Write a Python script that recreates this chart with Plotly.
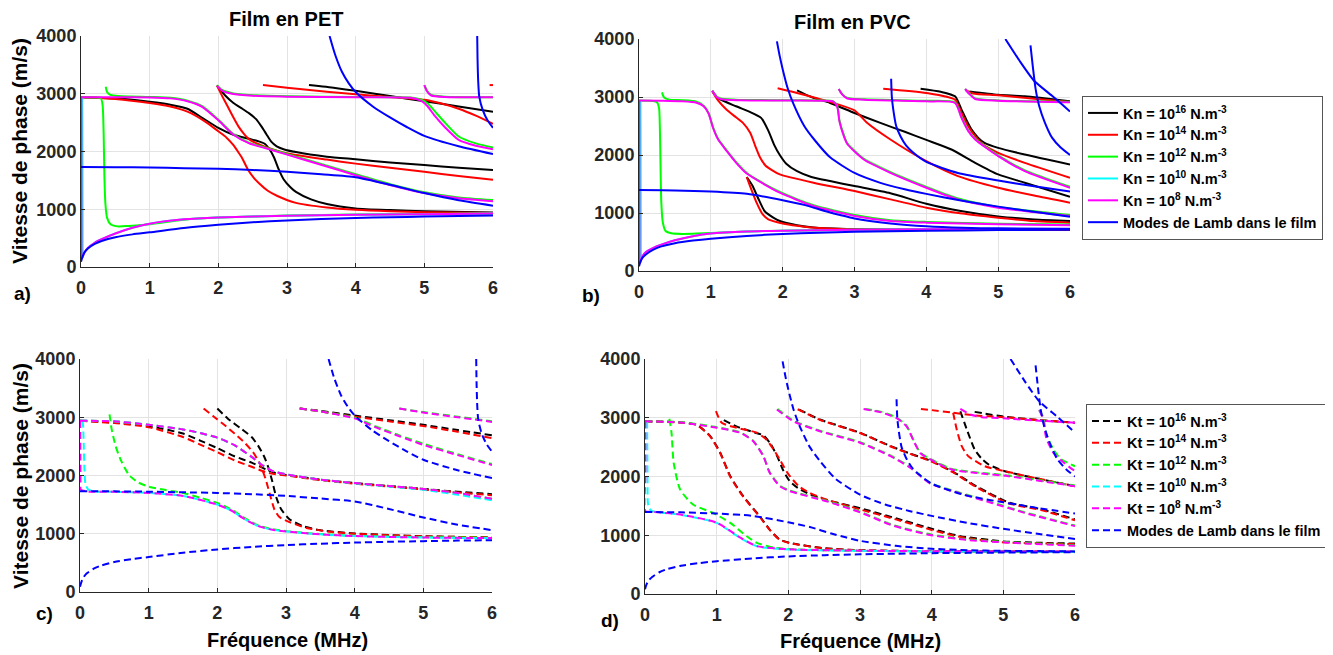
import plotly.graph_objects as go

# ---------------- text ----------------
FREQ_TICKS = [0, 1, 2, 3, 4, 5, 6]
SPEED_TICKS = [0, 1000, 2000, 3000, 4000]
KN_LABELS = ["Kn = 10<sup>16</sup> N.m<sup>-3</sup>", "Kn = 10<sup>14</sup> N.m<sup>-3</sup>",
             "Kn = 10<sup>12</sup> N.m<sup>-3</sup>", "Kn = 10<sup>10</sup> N.m<sup>-3</sup>",
             "Kn = 10<sup>8</sup> N.m<sup>-3</sup>", "Modes de Lamb dans le film"]
KT_LABELS = ["Kt = 10<sup>16</sup> N.m<sup>-3</sup>", "Kt = 10<sup>14</sup> N.m<sup>-3</sup>",
             "Kt = 10<sup>12</sup> N.m<sup>-3</sup>", "Kt = 10<sup>10</sup> N.m<sup>-3</sup>",
             "Kt = 10<sup>8</sup> N.m<sup>-3</sup>", "Modes de Lamb dans le film"]
COLORS = ["#000000", "#ff0000", "#00ff00", "#00ffff", "#ff00ff", "#0000ff"]

# ---------------- Lamb modes (film alone) ----------------
LAMB_PET_1 = [(0, 90), (0.02, 170), (0.05, 250), (0.1, 320), (0.2, 400), (0.3, 450), (0.5, 515), (0.75, 565),
              (1, 600), (1.5, 675), (2, 730), (2.5, 775), (3, 805), (3.5, 830), (4, 848), (4.5, 862), (5, 873),
              (5.5, 882), (6, 890)]
LAMB_PET_2 = [(0, 1730), (0.5, 1728), (1, 1722), (1.5, 1712), (2, 1700), (2.5, 1680), (3, 1650), (3.5, 1605),
              (4, 1555), (4.5, 1425), (5, 1280), (5.5, 1155), (6, 1062)]
LAMB_PET_3 = [(3.62, 4000), (3.7, 3680), (3.8, 3380), (3.9, 3180), (4.0, 3030), (4.25, 2780), (4.5, 2590),
              (4.75, 2420), (5, 2270), (5.5, 2090), (6, 1955)]
LAMB_PET_4 = [(5.77, 4000), (5.775, 3600), (5.785, 3200), (5.8, 2950), (5.85, 2720), (5.92, 2540), (6, 2410)]

LAMB_PVC_1 = [(0, 80), (0.02, 160), (0.05, 230), (0.1, 290), (0.2, 370), (0.3, 420), (0.5, 480), (0.75, 525),
              (1, 558), (1.5, 605), (2, 640), (2.5, 660), (3, 675), (3.5, 686), (4, 695), (5, 705), (6, 712)]
LAMB_PVC_2 = [(0, 1395), (0.5, 1390), (1, 1370), (1.5, 1330), (2, 1220), (2.3, 1140), (2.6, 1030), (2.8, 965),
              (3, 905), (3.5, 820), (4, 770), (4.5, 745), (5, 735), (6, 725)]
LAMB_PVC_3 = [(1.92, 3960), (1.96, 3700), (2.0, 3480), (2.07, 3150), (2.15, 2880), (2.3, 2500), (2.45, 2250),
              (2.66, 1960), (3, 1690), (3.36, 1520), (3.7, 1410), (4, 1330), (4.5, 1210), (5, 1110), (5.5, 1020),
              (6, 935)]
LAMB_PVC_4 = [(3.51, 3315), (3.52, 3000), (3.54, 2782), (3.58, 2500), (3.64, 2324), (3.72, 2160), (3.82, 2037),
              (4, 1880), (4.44, 1690), (5, 1560), (5.5, 1460), (6, 1370)]
LAMB_PVC_5 = [(5.1, 4000), (5.3, 3620), (5.5, 3280), (5.75, 3020), (6, 2750)]
LAMB_PVC_6 = [(5.45, 3890), (5.48, 3550), (5.52, 3150), (5.57, 2850), (5.65, 2560), (5.75, 2300), (5.87, 2130),
              (6, 2000)]

# ---------------- PET film, normal stiffness Kn ----------------
PET_LOW = [(0.012, 140), (0.05, 250), (0.1, 330), (0.2, 420), (0.3, 480), (0.5, 580), (0.75, 680), (1, 750),
           (1.5, 825), (2, 858), (3, 888), (4, 905), (5, 915), (6, 925)]
PET_KN16_A = [(1.98, 3140), (2.1, 2970), (2.22, 2840), (2.35, 2740), (2.45, 2660), (2.55, 2560), (2.63, 2430),
              (2.7, 2300), (2.77, 2170), (2.85, 2090), (2.95, 2040), (3.13, 1990), (3.58, 1910), (4, 1865),
              (4.5, 1810), (5, 1765), (5.5, 1720), (6, 1680)]
PET_KN16_B = [(0, 2940), (0.5, 2920), (1, 2860), (1.3, 2810), (1.55, 2740), (1.77, 2580), (2, 2410), (2.22, 2290),
              (2.45, 2220), (2.6, 2170), (2.68, 2130), (2.75, 2030), (2.81, 1900), (2.88, 1690), (2.95, 1520),
              (3.05, 1380), (3.13, 1300), (3.35, 1170), (3.58, 1090), (4, 1015), (4.5, 985), (5, 965), (6, 945)]
PET_KN16_C = [(3.32, 3150), (3.7, 3100), (4, 3050), (4.5, 2960), (5, 2870), (5.5, 2780), (6, 2690)]
PET_KN14_A = [(1.98, 3140), (2.06, 2950), (2.14, 2770), (2.22, 2590), (2.29, 2440), (2.37, 2310), (2.45, 2210),
              (2.58, 2130), (2.72, 2065), (2.99, 1970), (3.58, 1860), (4, 1790), (4.5, 1720), (5, 1650),
              (5.5, 1575), (6, 1510)]
PET_KN14_B = [(0, 2940), (0.5, 2910), (1, 2840), (1.3, 2780), (1.55, 2690), (1.82, 2510), (2, 2350), (2.12, 2240),
              (2.22, 2110), (2.29, 1990), (2.34, 1900), (2.43, 1690), (2.52, 1540), (2.6, 1440), (2.72, 1320),
              (2.86, 1230), (3.13, 1110), (3.58, 1030), (4, 990), (4.5, 965), (5, 950), (6, 935)]
PET_KN14_C = [(2.65, 3150), (3, 3105), (3.58, 3035), (4, 2990), (4.5, 2945), (5, 2895), (5.25, 2830), (5.5, 2740),
              (5.75, 2620), (6, 2480)]
PET_KN14_D = [(5.95, 3150), (6, 3150)]
PET_KN12_A = [(0, 2940), (0.2, 2935), (0.29, 2920), (0.315, 2800), (0.33, 2300), (0.34, 1600), (0.355, 1100),
              (0.38, 850), (0.43, 740), (0.55, 700), (0.7, 712), (1, 742), (1.5, 820), (2, 858), (3, 890),
              (4, 907), (5, 918), (6, 928)]
PET_KN12_B = [(0.36, 3120), (0.38, 3030), (0.42, 2985), (0.55, 2960), (1, 2945), (1.3, 2930), (1.55, 2880),
              (1.77, 2780), (2, 2550), (2.22, 2300), (2.45, 2150), (2.68, 2070), (2.99, 1960), (3.58, 1755),
              (4, 1605), (4.5, 1435), (5, 1295), (5.5, 1205), (6, 1160)]
PET_KN12_C = [(1.98, 3150), (2.05, 3070), (2.2, 3010), (2.5, 2975), (3, 2955), (4, 2945), (4.8, 2935),
              (4.95, 2900), (5.05, 2830), (5.15, 2700), (5.3, 2500), (5.5, 2260), (5.75, 2140), (6, 2070)]
PET_KN12_D = [(5.0, 3150), (5.04, 3050), (5.1, 2980), (5.3, 2950), (6, 2940)]
PET_KN10_DROP = [(0.018, 2940), (0.02, 2500), (0.022, 1500), (0.024, 600), (0.027, 250), (0.035, 230),
                 (0.05, 255)]
PET_KN8_DROP = [(0.004, 2940), (0.005, 1500), (0.006, 400), (0.008, 160), (0.012, 140)]
PET_KN8_A = [(0, 2940), (0.5, 2940), (1, 2935), (1.3, 2920), (1.55, 2870), (1.77, 2770), (2, 2540), (2.22, 2290),
             (2.45, 2140), (2.68, 2060), (2.99, 1950), (3.58, 1740), (4, 1590), (4.5, 1420), (5, 1280), (5.5, 1190),
             (6, 1140)]
PET_KN8_B = [(1.98, 3140), (2.05, 3060), (2.2, 3000), (2.5, 2965), (3, 2950), (4, 2940), (4.8, 2930),
             (4.95, 2880), (5.05, 2780), (5.15, 2620), (5.3, 2420), (5.5, 2200), (5.75, 2100), (6, 2040)]
PET_KN8_C = [(5.0, 3150), (5.04, 3040), (5.1, 2970), (5.3, 2945), (6, 2940)]

# ---------------- PVC film, normal stiffness Kn ----------------
PVC_LOW = [(0.012, 130), (0.05, 260), (0.1, 330), (0.2, 400), (0.3, 450), (0.5, 530), (0.75, 600), (1, 645),
           (1.5, 680), (2, 695), (3, 712), (4, 720), (6, 728)]
PVC_KN16_A = [(1.02, 3100), (1.1, 2980), (1.35, 2840), (1.55, 2740), (1.7, 2640), (1.8, 2420), (1.88, 2180),
              (1.96, 2000), (2.05, 1850), (2.2, 1720), (2.4, 1620), (2.66, 1550), (3, 1464), (3.5, 1340),
              (4, 1160), (4.5, 1030), (5, 940), (5.5, 890), (6, 863)]
PVC_KN16_B = [(1.5, 1620), (1.58, 1470), (1.66, 1250), (1.75, 1030), (1.87, 920), (1.96, 863), (2.2, 790),
              (2.43, 750), (3, 722), (4, 714), (6, 712)]
PVC_KN16_C = [(2.2, 3115), (2.4, 3000), (2.66, 2897), (3, 2725), (3.36, 2553), (3.7, 2400), (4, 2260),
              (4.35, 2095), (4.68, 1865), (5, 1665), (5.37, 1522), (6, 1281)]
PVC_KN16_D = [(3.92, 3143), (4.2, 3090), (4.4, 3011), (4.49, 2782), (4.56, 2600), (4.63, 2438), (4.72, 2300),
              (4.81, 2209), (5, 2123), (5.37, 2009), (6, 1837)]
PVC_KN16_E = [(4.6, 3097), (5, 3040), (5.37, 3011), (6, 2925)]
PVC_KN14_A = [(1.02, 3100), (1.1, 2940), (1.22, 2780), (1.35, 2650), (1.45, 2550), (1.55, 2380), (1.62, 2150),
              (1.68, 1970), (1.76, 1820), (1.85, 1740), (1.96, 1665), (2.43, 1522), (3, 1378), (3.5, 1235),
              (4, 1092), (4.5, 990), (5, 920), (5.5, 860), (6, 834)]
PVC_KN14_B = [(1.5, 1620), (1.56, 1420), (1.64, 1170), (1.72, 980), (1.8, 890), (2, 820), (2.2, 780),
              (2.5, 740), (3, 718), (4, 712), (6, 710)]
PVC_KN14_C = [(1.93, 3150), (2.2, 3070), (2.5, 2970), (2.7, 2900), (3, 2770), (3.17, 2560), (3.5, 2267),
              (4, 1894), (4.44, 1636), (5, 1436), (5.5, 1300), (6, 1178)]
PVC_KN14_D = [(3.4, 3143), (4, 3069), (4.4, 2954), (4.49, 2725), (4.58, 2500), (4.68, 2324), (4.8, 2170),
              (5, 2037), (5.37, 1865), (6, 1608)]
PVC_KN14_E = [(4.55, 3120), (4.65, 3060), (5, 3030), (5.5, 2970), (6, 2915)]
PVC_KN12_A = [(0, 2940), (0.15, 2935), (0.25, 2910), (0.28, 2800), (0.29, 2500), (0.3, 1800), (0.31, 1200),
              (0.33, 850), (0.37, 690), (0.45, 650), (0.6, 640), (0.8, 645), (1, 655), (1.5, 680), (2, 695),
              (3, 710), (4, 718), (6, 725)]
PVC_KN12_B = [(0.32, 3080), (0.35, 2990), (0.42, 2955), (0.6, 2945), (0.8, 2920), (0.9, 2850), (0.97, 2720),
              (1.03, 2480), (1.1, 2280), (1.22, 2080), (1.35, 1880), (1.5, 1690), (1.75, 1500), (1.96, 1365),
              (2.43, 1135), (3, 965), (3.5, 875), (4, 846), (5, 815), (6, 800)]
PVC_KN12_C = [(1.02, 3110), (1.08, 3010), (1.15, 2970), (1.4, 2950), (2, 2945), (2.5, 2940), (2.7, 2930),
              (2.76, 2850), (2.79, 2600), (2.85, 2350), (2.9, 2200), (3.13, 1935), (3.5, 1705), (4, 1450),
              (4.44, 1250), (5, 1105), (6, 965)]
PVC_KN12_D = [(2.78, 3138), (2.83, 3050), (2.9, 2985), (3.13, 2960), (4, 2935), (4.4, 2907), (4.49, 2650),
              (4.58, 2430), (4.68, 2280), (5, 1995), (5.37, 1735), (6, 1450)]
PVC_KN12_E = [(4.54, 3138), (4.6, 3060), (4.68, 2976), (5, 2940), (6, 2918)]
PVC_KN10_DROP = [(0.02, 2940), (0.022, 2500), (0.024, 1500), (0.026, 600), (0.029, 250), (0.037, 220),
                 (0.05, 250)]
PVC_KN8_DROP = [(0.004, 2940), (0.005, 1500), (0.006, 400), (0.008, 150), (0.012, 130)]
PVC_KN8_A = [(0, 2940), (0.3, 2935), (0.6, 2925), (0.8, 2900), (0.9, 2840), (0.97, 2710), (1.03, 2470),
             (1.1, 2270), (1.22, 2070), (1.35, 1870), (1.5, 1680), (1.75, 1490), (1.96, 1350), (2.43, 1120),
             (3, 950), (3.5, 863), (4, 834), (5, 805), (6, 790)]
PVC_KN8_B = [(1.02, 3110), (1.08, 3000), (1.15, 2960), (1.4, 2945), (2, 2940), (2.5, 2935), (2.7, 2925),
             (2.76, 2830), (2.79, 2580), (2.85, 2330), (2.9, 2190), (3.13, 1923), (3.5, 1693), (4, 1436),
             (4.44, 1235), (5, 1092), (6, 949)]
PVC_KN8_C = [(2.78, 3138), (2.83, 3040), (2.9, 2975), (3.13, 2954), (4, 2925), (4.4, 2897), (4.49, 2639),
             (4.58, 2420), (4.68, 2267), (5, 1980), (5.37, 1722), (6, 1436)]
PVC_KN8_D = [(4.54, 3138), (4.6, 3050), (4.68, 2966), (5, 2935), (6, 2908)]

# ---------------- PET film, tangential stiffness Kt ----------------
PET_KT16_A = [(2.0, 3150), (2.15, 2980), (2.35, 2800), (2.5, 2660), (2.6, 2500), (2.68, 2330), (2.74, 2150),
              (2.8, 1900), (2.86, 1620), (2.93, 1420), (3.05, 1250), (3.25, 1130), (3.5, 1060), (4, 1005),
              (4.5, 978), (5, 958), (5.5, 946), (6, 937)]
PET_KT16_B = [(0, 2940), (0.5, 2910), (1, 2850), (1.5, 2720), (1.75, 2600), (2, 2470), (2.25, 2330),
              (2.5, 2220), (2.7, 2110), (2.85, 2040), (3, 2010), (3.5, 1930), (4, 1870), (4.5, 1820), (5, 1770),
              (5.5, 1720), (6, 1680)]
PET_KT16_C = [(3.2, 3150), (3.5, 3110), (4, 3030), (4.5, 2950), (5, 2870), (5.5, 2780), (6, 2690)]
PET_KT14_A = [(1.8, 3150), (1.95, 3010), (2.1, 2870), (2.25, 2720), (2.4, 2560), (2.52, 2400), (2.62, 2200),
              (2.7, 1950), (2.76, 1700), (2.83, 1420), (2.9, 1290), (3.05, 1200), (3.3, 1100), (3.6, 1040),
              (4, 1000), (5, 955), (6, 940)]
PET_KT14_B = [(0, 2940), (0.5, 2900), (1, 2830), (1.5, 2660), (1.75, 2530), (2, 2400), (2.25, 2260),
              (2.5, 2150), (2.7, 2060), (2.85, 2020), (3, 2000), (3.5, 1920), (4, 1860), (4.5, 1810), (5, 1760),
              (5.5, 1710), (6, 1660)]
PET_KT14_C = [(3.2, 3150), (3.5, 3100), (4, 3010), (4.5, 2930), (5, 2850), (5.5, 2750), (6, 2640)]
PET_KT12_A = [(0.43, 3050), (0.46, 2800), (0.52, 2500), (0.6, 2250), (0.72, 2000), (0.85, 1880), (1, 1810),
              (1.25, 1750), (1.5, 1700), (1.75, 1620), (2, 1530), (2.2, 1420), (2.4, 1270), (2.6, 1140),
              (2.8, 1080), (3, 1045), (3.5, 995), (4, 965), (5, 942), (6, 932)]
PET_KT12_B = [(0, 2940), (0.5, 2930), (1, 2870), (1.5, 2790), (1.75, 2730), (2, 2650), (2.25, 2520),
              (2.5, 2320), (2.65, 2180), (2.8, 2080), (3, 2020), (3.5, 1930), (4, 1870), (4.5, 1820), (5, 1770),
              (5.5, 1700), (6, 1600)]
PET_KT12_C = [(3.2, 3150), (3.5, 3100), (4, 2995), (4.3, 2845), (4.66, 2685), (5, 2545), (5.5, 2365),
              (6, 2195)]
PET_KT12_D = [(4.65, 3150), (5, 3090), (5.5, 3010), (6, 2930)]
PET_KT10_A = [(0.035, 2940), (0.045, 2850), (0.055, 2500), (0.065, 2100), (0.08, 1850), (0.12, 1760),
              (0.2, 1730), (0.5, 1720), (1, 1700), (1.5, 1650), (2, 1500), (2.2, 1400), (2.4, 1250), (2.6, 1130),
              (2.8, 1070), (3, 1040), (3.5, 990), (4, 960), (5, 935), (6, 925)]
PET_KT10_B = [(0, 2940), (0.5, 2930), (1, 2870), (1.5, 2790), (1.75, 2730), (2, 2650), (2.25, 2520),
              (2.5, 2320), (2.65, 2180), (2.8, 2080), (3, 2020), (3.5, 1930), (4, 1865), (4.5, 1810), (5, 1755),
              (5.5, 1670), (6, 1575)]
PET_KT8_A = [(0, 2940), (0.5, 2930), (1, 2870), (1.5, 2790), (1.75, 2730), (2, 2650), (2.25, 2520), (2.5, 2320),
             (2.65, 2180), (2.8, 2080), (3, 2020), (3.5, 1930), (4, 1870), (4.5, 1820), (5, 1770), (5.5, 1700),
             (6, 1600)]
PET_KT8_B = [(0.004, 2940), (0.005, 2500), (0.007, 1900), (0.012, 1760), (0.1, 1725), (0.5, 1720), (1, 1700),
             (1.5, 1650), (2, 1500), (2.2, 1400), (2.4, 1250), (2.6, 1130), (2.8, 1070), (3, 1040), (3.5, 990),
             (4, 960), (5, 935), (6, 925)]
PET_KT8_C = [(3.2, 3150), (3.5, 3100), (4, 2980), (4.3, 2830), (4.66, 2670), (5, 2525), (5.5, 2350), (6, 2180)]
PET_KT8_D = [(4.65, 3150), (5, 3080), (5.5, 3000), (6, 2920)]

# ---------------- PVC film, tangential stiffness Kt ----------------
PVC_KT16_A = [(1.1, 2960), (1.3, 2840), (1.5, 2760), (1.65, 2700), (1.75, 2560), (1.85, 2330), (1.93, 2100),
              (2.02, 1920), (2.15, 1790), (2.3, 1700), (2.53, 1600), (3, 1460), (3.5, 1290), (4, 1110),
              (4.4, 985), (5, 895), (5.5, 872), (6, 858)]
PVC_KT16_B = [(0, 2940), (0.5, 2920), (0.72, 2880), (0.91, 2688), (1.05, 2404), (1.19, 2006), (1.37, 1665),
              (1.6, 1324), (1.74, 1097), (1.88, 927), (2.02, 870), (2.5, 780), (3, 745), (4, 730), (6, 720)]
PVC_KT16_C = [(2.15, 3140), (2.44, 2970), (3, 2745), (3.42, 2520), (3.7, 2390), (4, 2260), (4.3, 2080),
              (4.6, 1850), (5.07, 1560), (5.54, 1440), (6, 1270)]
PVC_KT16_D = [(4.4, 3110), (4.5, 2770), (4.6, 2460), (4.7, 2300), (4.8, 2200), (5.02, 2090), (5.5, 1960),
              (6, 1835)]
PVC_KT16_E = [(4.6, 3100), (5, 3020), (5.5, 2960), (6, 2915)]
PVC_KT14_A = [(0.99, 3114), (1.07, 2915), (1.28, 2830), (1.56, 2745), (1.7, 2620), (1.8, 2450), (1.88, 2290),
              (2, 2040), (2.15, 1830), (2.3, 1720), (2.53, 1610), (3, 1440), (3.5, 1270), (4, 1090), (4.4, 970),
              (5, 880), (5.5, 860), (6, 850)]
PVC_KT14_B = [(0, 2940), (0.5, 2918), (0.72, 2878), (0.91, 2680), (1.05, 2395), (1.19, 1995), (1.37, 1655),
              (1.6, 1315), (1.74, 1090), (1.88, 922), (2.02, 866), (2.5, 776), (3, 743), (4, 728), (6, 718)]
PVC_KT14_C = [(2.13, 3145), (2.44, 2965), (3, 2740), (3.42, 2515), (3.7, 2385), (4, 2255), (4.3, 2070),
              (4.6, 1835), (5.07, 1545), (5.54, 1425), (6, 1255)]
PVC_KT14_D = [(3.85, 3150), (4.0, 3130), (4.3, 3085), (4.6, 3040), (5, 3010), (5.5, 2960), (6, 2915)]
PVC_KT14_E = [(4.3, 3085), (4.35, 2800), (4.42, 2517), (4.51, 2347), (4.74, 2176), (5.02, 2090), (5.5, 1960),
              (6, 1835)]
PVC_KT12_A = [(0.34, 2983), (0.37, 2744), (0.4, 2233), (0.49, 1779), (0.67, 1523), (0.95, 1380), (1.19, 1210),
              (1.42, 983), (1.56, 870), (1.8, 790), (2, 765), (3, 735), (4, 725), (6, 720)]
PVC_KT12_B = [(0, 2940), (0.5, 2925), (1, 2840), (1.33, 2750), (1.51, 2610), (1.65, 2357), (1.74, 2073),
              (1.88, 1845), (2.02, 1760), (2.53, 1590), (3, 1400), (3.47, 1170), (4, 1010), (4.5, 930), (5, 888),
              (6, 828)]
PVC_KT12_C = [(1.85, 3150), (2.07, 2950), (2.44, 2780), (3, 2585), (3.42, 2360), (3.7, 2160), (3.98, 1890),
              (4.37, 1732), (4.84, 1560), (5.3, 1390), (6, 1165)]
PVC_KT12_D = [(3.07, 3150), (3.3, 3100), (3.51, 3005), (3.65, 2865), (3.75, 2610), (3.84, 2410), (3.98, 2300),
              (4.28, 2130), (4.6, 2073), (5.07, 2016), (5.54, 1930), (6, 1845)]
PVC_KT12_E = [(5.5, 3130), (5.56, 3000), (5.6, 2720), (5.7, 2460), (5.8, 2300), (6, 2175)]
PVC_KT10_A = [(0.03, 2940), (0.035, 2000), (0.04, 1550), (0.06, 1460), (0.1, 1410), (0.49, 1350), (1, 1210),
              (1.33, 955), (1.56, 813), (2.02, 756), (3, 735), (4, 725), (6, 720)]
PVC_KT8_A = [(0.004, 2940), (0.005, 2000), (0.006, 1410), (0.1, 1400), (0.49, 1352), (1, 1215), (1.33, 960),
             (1.56, 815), (2.02, 760), (3, 738), (4, 728), (6, 722)]
PVC_KT8_B = [(0, 2940), (0.5, 2920), (1, 2830), (1.33, 2745), (1.51, 2600), (1.65, 2347), (1.74, 2063),
             (1.88, 1835), (2.02, 1750), (2.53, 1580), (3, 1390), (3.47, 1160), (4, 1000), (4.5, 920), (5, 880),
             (6, 820)]
PVC_KT8_C = [(1.84, 3140), (2.07, 2940), (2.44, 2770), (3, 2575), (3.42, 2350), (3.7, 2150), (3.98, 1880),
             (4.37, 1722), (4.84, 1550), (5.3, 1380), (6, 1155)]
PVC_KT8_D = [(3.05, 3150), (3.3, 3090), (3.51, 2995), (3.65, 2855), (3.75, 2600), (3.84, 2400), (3.98, 2290),
             (4.28, 2120), (4.6, 2063), (5.07, 2006), (5.54, 1920), (6, 1835)]
PVC_KT8_E = [(4.4, 3150), (4.55, 3050), (4.7, 3010), (5, 2990), (5.5, 2950), (6, 2915)]
PVC_KT8_F = [(5.5, 3130), (5.55, 3000), (5.6, 2650), (5.7, 2400), (5.85, 2230), (6, 2090)]

# curve groups per panel, in colour order (black, red, green, cyan, magenta, blue)
PANEL_A = [[PET_KN16_A, PET_KN16_B, PET_KN16_C],
           [PET_KN14_A, PET_KN14_B, PET_KN14_C, PET_KN14_D],
           [PET_KN12_A, PET_KN12_B, PET_KN12_C, PET_KN12_D],
           [PET_KN10_DROP, PET_LOW],
           [PET_KN8_DROP, PET_LOW, PET_KN8_A, PET_KN8_B, PET_KN8_C],
           [LAMB_PET_1, LAMB_PET_2, LAMB_PET_3, LAMB_PET_4]]
PANEL_B = [[PVC_KN16_A, PVC_KN16_B, PVC_KN16_C, PVC_KN16_D, PVC_KN16_E],
           [PVC_KN14_A, PVC_KN14_B, PVC_KN14_C, PVC_KN14_D, PVC_KN14_E],
           [PVC_KN12_A, PVC_KN12_B, PVC_KN12_C, PVC_KN12_D, PVC_KN12_E],
           [PVC_KN10_DROP, PVC_LOW],
           [PVC_KN8_DROP, PVC_LOW, PVC_KN8_A, PVC_KN8_B, PVC_KN8_C, PVC_KN8_D],
           [LAMB_PVC_1, LAMB_PVC_2, LAMB_PVC_3, LAMB_PVC_4, LAMB_PVC_5, LAMB_PVC_6]]
PANEL_C = [[PET_KT16_A, PET_KT16_B, PET_KT16_C],
           [PET_KT14_A, PET_KT14_B, PET_KT14_C],
           [PET_KT12_A, PET_KT12_B, PET_KT12_C, PET_KT12_D],
           [PET_KT10_A, PET_KT10_B],
           [PET_KT8_A, PET_KT8_B, PET_KT8_C, PET_KT8_D],
           [LAMB_PET_1, LAMB_PET_2, LAMB_PET_3, LAMB_PET_4]]
PANEL_D = [[PVC_KT16_A, PVC_KT16_B, PVC_KT16_C, PVC_KT16_D, PVC_KT16_E],
           [PVC_KT14_A, PVC_KT14_B, PVC_KT14_C, PVC_KT14_D, PVC_KT14_E],
           [PVC_KT12_A, PVC_KT12_B, PVC_KT12_C, PVC_KT12_D, PVC_KT12_E],
           [PVC_KT10_A],
           [PVC_KT8_A, PVC_KT8_B, PVC_KT8_C, PVC_KT8_D, PVC_KT8_E, PVC_KT8_F],
           [LAMB_PVC_1, LAMB_PVC_2, LAMB_PVC_3, LAMB_PVC_4, LAMB_PVC_5, LAMB_PVC_6]]

PAGE_MARGIN = 8          # default body margin of the html page
W, H = 1333 - PAGE_MARGIN, 655 - PAGE_MARGIN
FONT = "Liberation Sans"
TICK_COLOR = "#262626"

fig = go.Figure()


def add_panel(groups, axis_suffix, dash, labels, legend_id, show_legend):
    for ci, curves in enumerate(groups):
        for k, pts in enumerate(curves):
            fig.add_trace(go.Scatter(
                x=[p[0] for p in pts], y=[p[1] for p in pts], mode="lines",
                line=dict(color=COLORS[ci], width=2, dash=dash, shape="spline", smoothing=0.6),
                xaxis="x" + axis_suffix, yaxis="y" + axis_suffix,
                name="<b>" + labels[ci] + "</b>", legendgroup=legend_id + str(ci),
                legend=legend_id, showlegend=(show_legend and k == 0), hoverinfo="skip"))


add_panel(PANEL_A, "", "solid", KN_LABELS, "legend", True)
add_panel(PANEL_B, "2", "solid", KN_LABELS, "legend", False)
add_panel(PANEL_C, "3", "7px,4px", KT_LABELS, "legend2", True)
add_panel(PANEL_D, "4", "7px,4px", KT_LABELS, "legend2", False)


def px_x(px):
    return (px - PAGE_MARGIN) / W


def px_y(py):
    return 1 - (py - PAGE_MARGIN) / H


def xaxis(x0, x1, anchor):
    return dict(domain=[px_x(x0), px_x(x1)], anchor=anchor, range=[0, 6], tickvals=FREQ_TICKS,
                tickfont=dict(family=FONT, size=18, color=TICK_COLOR, weight="bold"),
                showgrid=True, gridcolor="#e3e3e3", gridwidth=1, zeroline=False,
                showline=True, linecolor=TICK_COLOR, linewidth=1, automargin=False,
                ticks="inside", ticklen=4, tickcolor=TICK_COLOR, ticklabelstandoff=4)


def yaxis(y0, y1, anchor):
    return dict(domain=[px_y(y1), px_y(y0)], anchor=anchor, range=[0, 4000], tickvals=SPEED_TICKS,
                tickfont=dict(family=FONT, size=18, color=TICK_COLOR, weight="bold"),
                showgrid=True, gridcolor="#e3e3e3", gridwidth=1, zeroline=False,
                showline=True, linecolor=TICK_COLOR, linewidth=1, automargin=False,
                ticks="inside", ticklen=4, tickcolor=TICK_COLOR)


def legend_box(px, py):
    return dict(x=px_x(px), y=px_y(py), xanchor="left", yanchor="top",
                font=dict(family=FONT, size=14.5, color="#000000"),
                bgcolor="#ffffff", bordercolor="#555555", borderwidth=1,
                tracegroupgap=5, traceorder="normal", itemwidth=30)


annotations = []


def text(s, px, py, size, angle=0):
    annotations.append(dict(text="<b>" + s + "</b>", x=px_x(px), y=px_y(py), xref="paper", yref="paper",
                            showarrow=False, textangle=angle, xanchor="center", yanchor="middle",
                            font=dict(family=FONT, size=size, color="#000000")))


text("Film en PET", 286, 19, 20)
text("Film en PVC", 852, 22, 20)
text("Vitesse de phase (m/s)", 20, 151, 21, -90)
text("Vitesse de phase (m/s)", 20, 476, 21, -90)
text("Fréquence (MHz)", 287, 640, 20)
text("Fréquence (MHz)", 860, 641, 20)
text("a)", 22, 293, 19)
text("b)", 591, 295, 19)
text("c)", 44, 613, 19)
text("d)", 610, 620, 19)

fig.update_layout(
    width=W, height=H, margin=dict(l=0, r=0, t=0, b=0, autoexpand=False),
    paper_bgcolor="#ffffff", plot_bgcolor="#ffffff",
    xaxis=xaxis(81, 493, "y"), yaxis=yaxis(36, 267, "x"),
    xaxis2=xaxis(639, 1070, "y2"), yaxis2=yaxis(39, 271, "x2"),
    xaxis3=xaxis(80, 492, "y3"), yaxis3=yaxis(359, 592, "x3"),
    xaxis4=xaxis(645, 1075, "y4"), yaxis4=yaxis(359, 594, "x4"),
    legend=legend_box(1082, 96), legend2=legend_box(1086, 404),
    annotations=annotations, showlegend=True,
)

fig.write_html("out.html")
